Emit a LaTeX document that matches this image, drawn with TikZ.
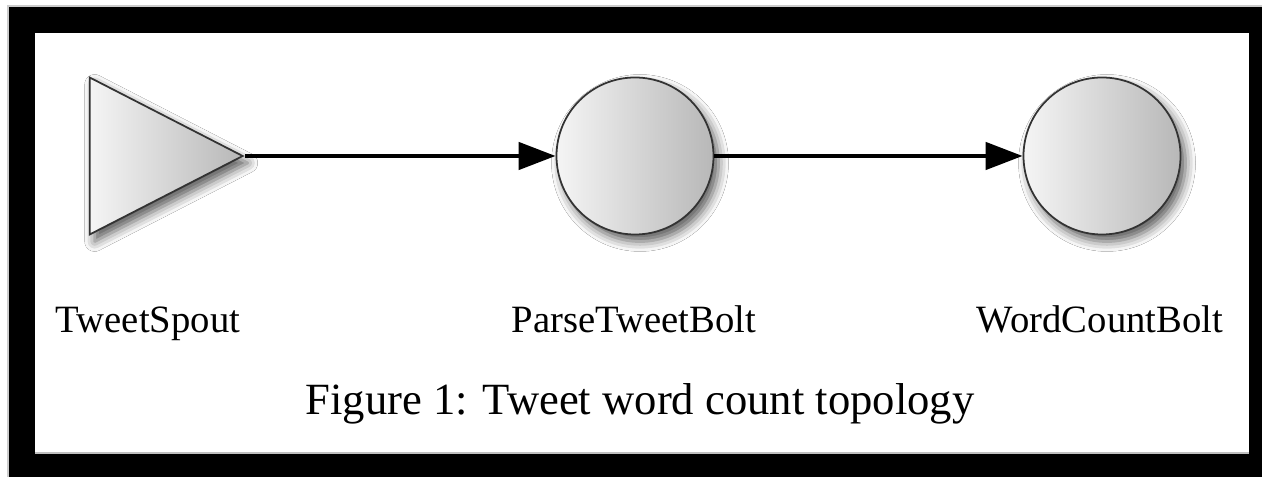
\documentclass[tikz,border=0pt]{standalone}
\usepackage{fontspec}
\setmainfont{Liberation Serif}
\usetikzlibrary{arrows.meta,shapes.geometric,shadows.blur}

\begin{document}
\begin{tikzpicture}[
  >=Latex,
  component/.style={
    draw=black!80,
    line width=0.5pt,
    left color=black!4,
    right color=black!28,
    inner sep=0pt,
    blur shadow={shadow xshift=0.5mm,shadow yshift=-0.7mm,
      shadow blur radius=1mm,shadow opacity=65}
  },
  spout/.style={
    component,
    isosceles triangle,
    isosceles triangle stretches,
    shape border rotate=0,
    minimum width=1.57cm,
    minimum height=1.53cm
  },
  bolt/.style={
    component,
    circle,
    minimum size=1.57cm
  },
  compname/.style={
    anchor=base,
    inner sep=0pt,
    font=\fontsize{11}{13}\selectfont
  },
  caption/.style={
    anchor=base,
    inner sep=0pt,
    font=\fontsize{12.7}{15}\selectfont
  },
  flow/.style={-{Triangle[length=3.7mm,width=2.7mm]},line width=1.3pt}
]
  \useasboundingbox (0,0) rectangle (12.62,4.77);

  % Frame around the figure.
  \fill[black] (0.08,-0.2) rectangle (12.8,4.71);
  \draw[black!20,line width=0.3pt] (0.08,-0.2) -- (0.08,4.71) -- (12.8,4.71);
  \fill[white] (0.35,0.24) rectangle (12.49,4.44);
  \draw[black!25,line width=0.3pt] (0.35,0.24) -- (12.49,0.24);

  % Topology: one spout feeding two bolts.
  \node[spout,anchor=apex] (tweetspout) at (2.45,3.21) {};
  \node[bolt] (parsebolt) at (6.35,3.21) {};
  \node[bolt] (countbolt) at (11.02,3.21) {};

  \draw[flow] (tweetspout.apex) -- (parsebolt.west);
  \draw[flow] (parsebolt.east) -- (countbolt.west);

  \node[compname] (spoutname) at (1.48,1.44) {TweetSpout};
  \node[compname] (parsename) at (6.34,1.44) {ParseTweetBolt};
  \node[compname] (countname) at (11.00,1.44) {WordCountBolt};

  \node[caption] (figcaption) at (6.40,0.62) {Figure 1: Tweet word count topology};
\end{tikzpicture}
\end{document}
